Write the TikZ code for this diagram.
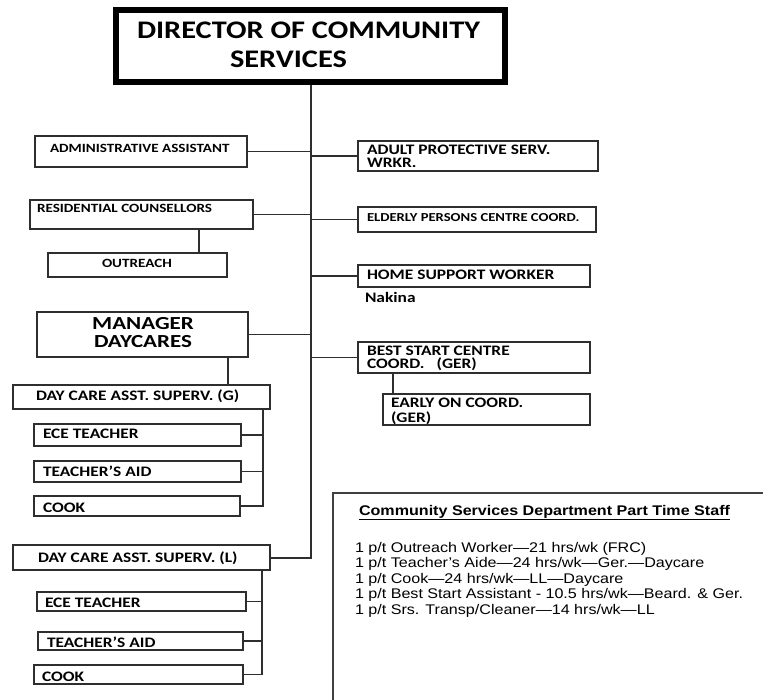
\documentclass[tikz,border=0pt]{standalone}
\usepackage{fontspec}
\setmainfont{Carlito}
\newfontfamily\cfont[FakeStretch=1.2]{Carlito}
\newfontfamily\mfont[FakeStretch=1.25]{Carlito}
\newfontfamily\afont[FakeStretch=1.15]{Liberation Sans}
\usetikzlibrary{fit}
\tikzset{
  box/.style={draw=black!82, line width=1.4pt, rectangle, inner sep=0pt, outer sep=0pt},
  dirbox/.style={draw=black, line width=6pt, rectangle, inner sep=0pt, outer sep=0pt},
  conn/.style={draw=black!82, line width=1.2pt},
  lbl/.style={inner sep=0pt, outer sep=0pt, text=black, font=\cfont\bfseries\fontsize{14.5}{14.5}\selectfont},
  lblsm/.style={lbl, font=\cfont\bfseries\fontsize{12.6}{12.6}\selectfont},
  lbldir/.style={lbl, font=\cfont\bfseries\fontsize{25.3}{25.3}\selectfont},
  lblmgr/.style={lbl, font=\mfont\bfseries\fontsize{18.4}{18.4}\selectfont},
  ptitle/.style={inner sep=0pt, outer sep=0pt, font=\afont\bfseries\fontsize{14}{14}\selectfont},
  pline/.style={inner sep=0pt, outer sep=0pt, font=\afont\fontsize{14}{14}\selectfont},
}
\begin{document}
\begin{tikzpicture}[x=1pt,y=-1pt]
\useasboundingbox (0,0) rectangle (763,700);
% director
\node[dirbox, fit={(116,10)(504.5,82)}] (dir) {};
\node[lbldir, anchor=base west] (dirt1) at (137,39) {DIRECTOR OF COMMUNITY};
\node[lbldir, anchor=base west] (dirt2) at (230,68) {SERVICES};
\coordinate (trunktop) at (311,85);
\coordinate (trunkbot) at (311,558);
% left boxes
\node[box, fit={(35,136)(247,167)}] (admin) {};
\node[lblsm, anchor=base west] (admint) at (50,153) {ADMINISTRATIVE ASSISTANT};
\node[box, fit={(30,200)(253,229)}] (rc) {};
\node[lblsm, anchor=base west] (rct) at (37,213) {RESIDENTIAL COUNSELLORS};
\node[box, fit={(48,253)(227,277)}] (outr) {};
\node[lblsm, anchor=base west] (outrt) at (102,268) {OUTREACH};
\node[box, fit={(37,312)(248,357)}] (mgr) {};
\node[lblmgr, anchor=base] (mgrt1) at (143,330) {MANAGER};
\node[lblmgr, anchor=base] (mgrt2) at (143,347.5) {DAYCARES};
% group G
\node[box, fit={(13,385)(270,409)}] (dg) {};
\node[lbl, anchor=base west] (dgt) at (36,400) {DAY CARE ASST. SUPERV. (G)};
\node[box, fit={(34,424)(241,446)}] (eceg) {};
\node[lbl, anchor=base west] (ecegt) at (43,438) {ECE TEACHER};
\node[box, fit={(34,461)(241,482)}] (tag) {};
\node[lbl, anchor=base west] (tagt) at (43,476) {TEACHER’S AID};
\node[box, fit={(34,496)(240,516)}] (cookg) {};
\node[lbl, anchor=base west] (cookgt) at (43,512) {COOK};
\coordinate (gbus) at (263,409);
% group L
\node[box, fit={(13,545)(270,570)}] (dl) {};
\node[lbl, anchor=base west] (dlt) at (38,562) {DAY CARE ASST. SUPERV. (L)};
\node[box, fit={(37,592)(246,611)}] (ecel) {};
\node[lbl, anchor=base west] (ecelt) at (45,607) {ECE TEACHER};
\node[box, fit={(38,632)(243,650)}] (tal) {};
\node[lbl, anchor=base west] (talt) at (47,647) {TEACHER’S AID};
\node[box, fit={(34,665)(243,684)}] (cookl) {};
\node[lbl, anchor=base west] (cooklt) at (42,681) {COOK};
\coordinate (lbus) at (262,570);
% right boxes
\node[box, fit={(358,141)(598,171)}] (aps) {};
\node[lbl, anchor=base west] (apst1) at (367,155) {ADULT PROTECTIVE SERV.};
\node[lbl, anchor=base west] (apst2) at (367,168) {WRKR.};
\node[box, fit={(358,207)(596,232)}] (epc) {};
\node[lblsm, font=\cfont\bfseries\fontsize{12.2}{12.2}\selectfont, anchor=base west] (epct) at (367,222) {ELDERLY PERSONS CENTRE COORD.};
\node[box, fit={(358,265)(590,287)}] (hsw) {};
\node[lbl, anchor=base west] (hswt) at (367,280) {HOME SUPPORT WORKER};
\node[lbl, anchor=base west] (nak) at (365,303) {Nakina};
\node[box, fit={(358,342)(590,373)}] (bsc) {};
\node[lbl, anchor=base west] (bsct1) at (367,356) {BEST START CENTRE};
\node[lbl, anchor=base west] (bsct2) at (367,369) {COORD.\hspace{12pt}(GER)};
\node[box, fit={(383,394)(590,425)}] (eon) {};
\node[lbl, anchor=base west] (eont1) at (391,408) {EARLY ON COORD.};
\node[lbl, anchor=base west] (eont2) at (391,422) {(GER)};
% part time box
\draw[draw=black!75, line width=1.3pt] (763,493) -- (333,493) -- (333,700);
\node[ptitle, anchor=base west] (ptt) at (359,515) {\underline{Community Services Department Part Time Staff}};
\node[pline, anchor=base west] (pl1) at (355,552) {1 p/t Outreach Worker—21 hrs/wk (FRC)};
\node[pline, anchor=base west] (pl2) at (355,567.5) {1 p/t Teacher’s Aide—24 hrs/wk—Ger.—Daycare};
\node[pline, anchor=base west] (pl3) at (355,583) {1 p/t Cook—24 hrs/wk—LL—Daycare};
\node[pline, anchor=base west] (pl4) at (355,598.5) {1 p/t Best Start Assistant - 10.5 hrs/wk—Beard. \& Ger.};
\node[pline, anchor=base west] (pl5) at (355,614) {1 p/t Srs. Transp/Cleaner—14 hrs/wk—LL};
% connectors
\draw[conn] (trunktop) -- (trunkbot) -- (trunkbot -| dl.east);
\draw[conn] (admin.east) -- (admin.east -| trunktop);
\draw[conn] (rc.east) -- (rc.east -| trunktop);
\draw[conn] (mgr.east) -- (mgr.east -| trunktop);
\draw[conn] (aps.west -| trunktop) -- (aps.west);
\draw[conn] (epc.west -| trunktop) -- (epc.west);
\draw[conn] (hsw.west -| trunktop) -- (hsw.west);
\draw[conn] (bsc.west -| trunktop) -- (bsc.west);
\draw[conn] (rc.south -| 199,0) -- (outr.north -| 199,0);
\draw[conn] (mgr.south -| 228,0) -- (dg.north -| 228,0);
\draw[conn] (bsc.south -| 393,0) -- (eon.north -| 393,0);
\draw[conn] (gbus) |- (cookg.east);
\draw[conn] (eceg.east) -- (eceg.east -| gbus);
\draw[conn] (tag.east) -- (tag.east -| gbus);
\draw[conn] (lbus) |- (cookl.east);
\draw[conn] (ecel.east) -- (ecel.east -| lbus);
\draw[conn] (tal.east) -- (tal.east -| lbus);
\end{tikzpicture}
\end{document}
